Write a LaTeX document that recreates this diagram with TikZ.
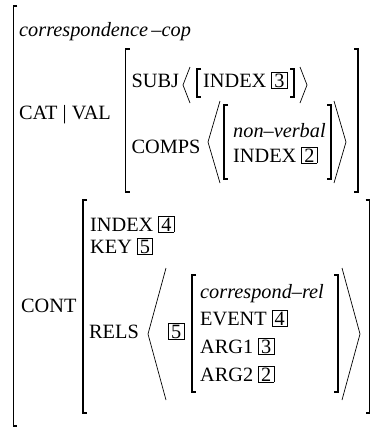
\documentclass[tikz,border=0pt]{standalone}
\usepackage{fontspec}
\setmainfont{Liberation Serif}
% boxed structure-sharing tag
\newcommand\avmtag[1]{{\setlength\fboxsep{1pt}\setlength\fboxrule{0.6pt}\fbox{\hspace{1.3pt}#1\hspace{1.3pt}}}}
% square brackets: x, top, bottom
\newcommand\avmL[3]{\draw[sqb] ({#1+4},#2) -- (#1,#2) -- (#1,#3) -- ({#1+4},#3);}
\newcommand\avmR[3]{\draw[sqb] ({#1-4},#2) -- (#1,#2) -- (#1,#3) -- ({#1-4},#3);}
\begin{document}
\begin{tikzpicture}[x=1pt,y=-1pt,
  txt/.style={inner sep=0pt, anchor=base west, font=\fontsize{20.3}{22}\selectfont},
  sqb/.style={line width=1.3pt, line join=miter, line cap=butt},
  ang/.style={line width=0.7pt, line join=miter}]
\useasboundingbox (0,0) rectangle (374,429);

% outer matrix
\avmL{13.3}{6}{426}
\node[txt] (type) at (19,36) {\textit{correspondence\,–cop}};
\node[txt] (catval) at (19,119) {CAT | VAL};

% CAT|VAL value
\avmL{125.5}{49}{192}
\avmR{358}{49}{192}
\node[txt] (subj) at (131.5,87) {SUBJ};
\draw[ang] (190,67) -- (183,85) -- (190,103);
\avmL{197}{69}{97}
\node[txt] (subjidx) at (203,87) {INDEX \avmtag{3}};
\avmR{294}{69}{97}
\draw[ang] (300,67) -- (307,85) -- (300,103);

\node[txt] (comps) at (131.5,153) {COMPS};
\draw[ang] (220,101) -- (208,142) -- (220,183);
\avmL{224}{105}{179}
\node[txt] (nonverbal) at (233,137) {\textit{non–verbal}};
\node[txt] (compsidx) at (233,162) {INDEX \avmtag{2}};
\avmR{331}{105}{179}
\draw[ang] (334,101) -- (346,142) -- (334,183);

% CONT value
\node[txt] (cont) at (21,312) {CONT};
\avmL{83}{200}{413}
\avmR{369.5}{200}{413}
\node[txt] (index) at (90,231) {INDEX \avmtag{4}};
\node[txt] (key) at (90,253) {KEY \avmtag{5}};
\node[txt] (rels) at (89,338) {RELS};
\draw[ang] (166,268) -- (148,334) -- (166,400);
\node[txt] (relstag) at (168,338) {\avmtag{5}};
\avmL{192}{275}{392}
\node[txt] (reltype) at (200,298) {\textit{correspond–rel}};
\node[txt] (event) at (200,325) {EVENT \avmtag{4}};
\node[txt] (arg1) at (200,353) {ARG1 \avmtag{3}};
\node[txt] (arg2) at (200,381) {ARG2 \avmtag{2}};
\avmR{338}{275}{392}
\draw[ang] (342,268) -- (360,334) -- (342,400);
\end{tikzpicture}
\end{document}
